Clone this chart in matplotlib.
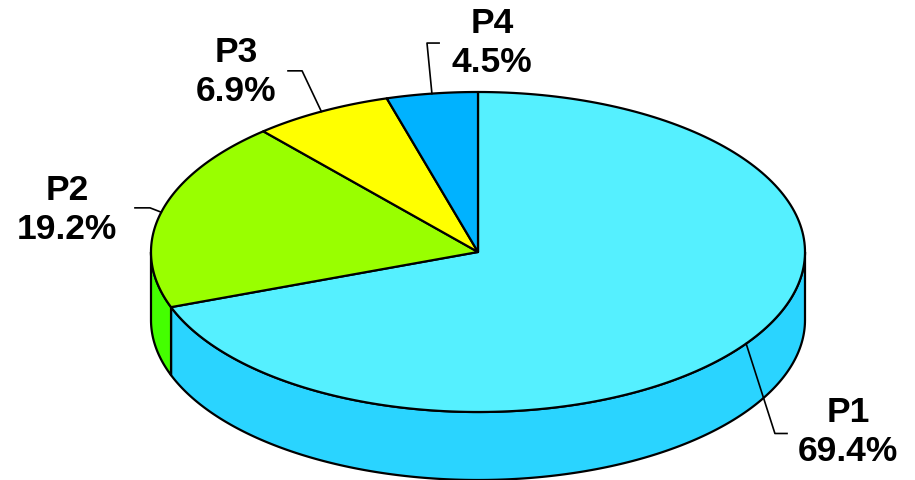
import numpy as np
import matplotlib.pyplot as plt
from matplotlib.patches import Polygon

labels = ['P1', 'P2', 'P3', 'P4']
values = [69.4, 19.2, 6.9, 4.5]
top_colors = ['#55F0FF', '#99FF00', '#FFFF00', '#00B2FF']
side_colors = ['#2AD4FF', '#44FF00', '#D4D400', '#0090D0']

# label block centres and leader elbows (pie units: rx = 1)
label_pos = [(1.131, -0.55), (-1.257, 0.128), (-0.739, 0.55), (0.043, 0.639)]
elbow_pos = [[(0.908, -0.555), (0.945, -0.555)],
             [(-1.003, 0.135), (-1.049, 0.135)],
             [(-0.538, 0.554), (-0.581, 0.554)],
             [(-0.156, 0.639), (-0.119, 0.639)]]

ry = 160 / 327.0
depth = 68 / 327.0
lw = 1.6

fig = plt.figure(figsize=(9.15, 4.8), dpi=100)
ax = fig.add_axes([0, 0, 1, 1])
ax.set_xlim(-478 / 327.0, 437 / 327.0)
ax.set_ylim(-228 / 327.0, 252 / 327.0)
ax.axis('off')

# slice angles, clockwise from 12 o'clock
fracs = np.array(values) / sum(values)
ends = 90 - 360 * np.cumsum(fracs)
starts = np.concatenate([[90], ends[:-1]])


def arc(t0, t1, n=200):
    t = np.radians(np.linspace(t0, t1, n))
    return np.cos(t), ry * np.sin(t)


# side walls (front half only)
for i in range(len(values)):
    lo, hi = ends[i], starts[i]
    for shift in (-360, 0, 360):
        a0 = max(lo + shift, 180)
        a1 = min(hi + shift, 360)
        if a1 > a0:
            x, y = arc(a0, a1)
            pts = np.concatenate([np.column_stack([x, y]),
                                  np.column_stack([x[::-1], y[::-1] - depth])])
            ax.add_patch(Polygon(pts, closed=True, facecolor=side_colors[i],
                                 edgecolor='black', lw=lw, joinstyle='round'))

# top faces
for i in range(len(values)):
    x, y = arc(starts[i], ends[i])
    pts = np.vstack([[0, 0], np.column_stack([x, y])])
    ax.add_patch(Polygon(pts, closed=True, facecolor=top_colors[i],
                         edgecolor='black', lw=lw, joinstyle='round'))

# labels with leader lines
for i in range(len(values)):
    mid = np.radians((starts[i] + ends[i]) / 2)
    ex, ey = np.cos(mid), ry * np.sin(mid)
    lx = [ex] + [p[0] for p in elbow_pos[i]]
    ly = [ey] + [p[1] for p in elbow_pos[i]]
    ax.plot(lx, ly, color='black', lw=1.2)
    ax.text(label_pos[i][0], label_pos[i][1],
            '%s\n%.1f%%' % (labels[i], values[i]),
            ha='center', va='center', fontsize=25.5, fontweight='bold',
            family='Liberation Sans', linespacing=1.25)

fig.savefig('out.png', dpi=100)
